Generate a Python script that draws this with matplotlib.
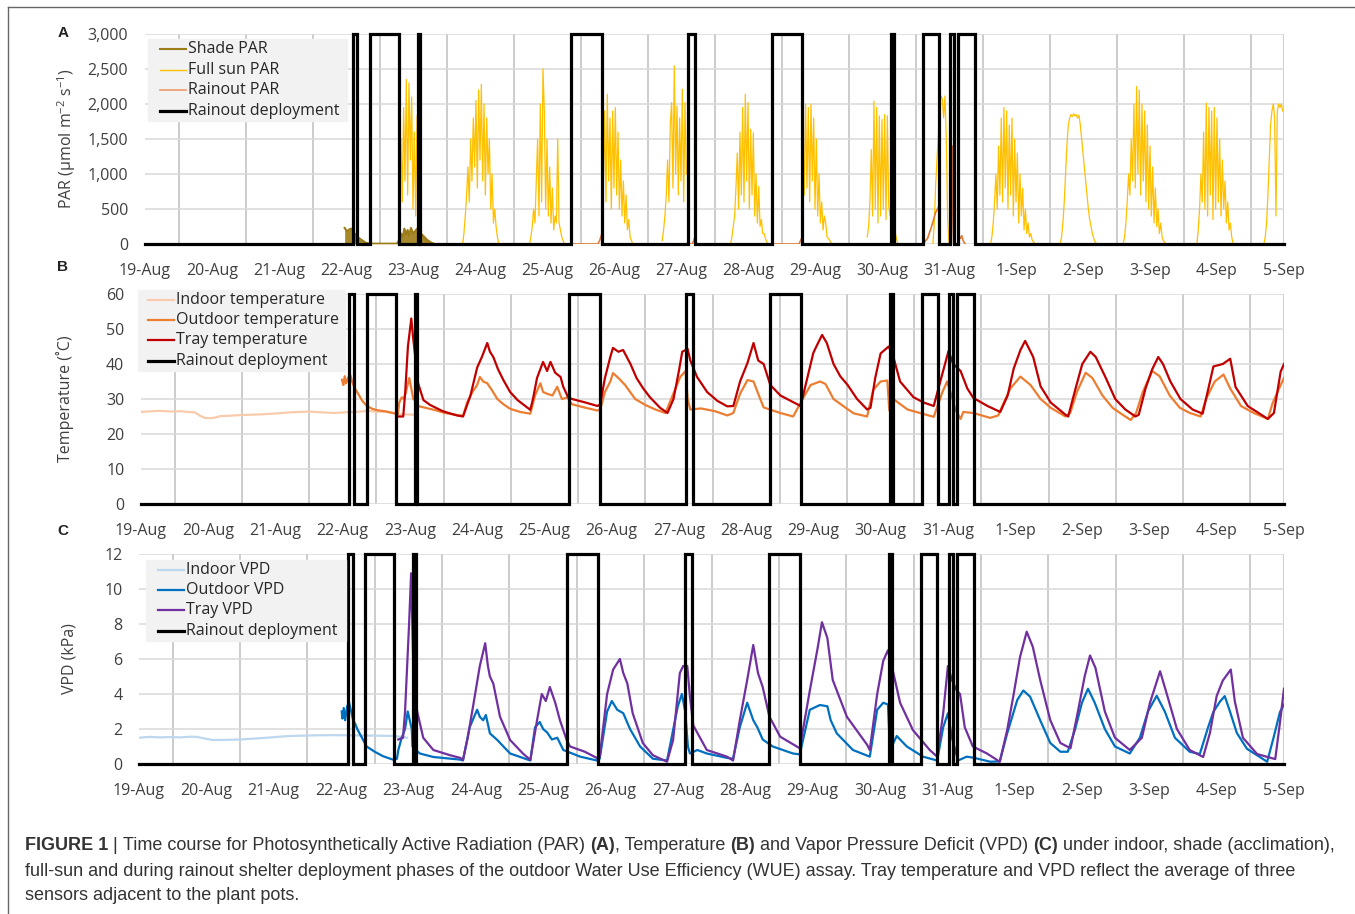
import numpy as np
import matplotlib
matplotlib.use("Agg")
import matplotlib.pyplot as plt
from matplotlib.lines import Line2D
from matplotlib.patches import Rectangle

# ---------------- data ----------------
date_labels = ["19-Aug", "20-Aug", "21-Aug", "22-Aug", "23-Aug", "24-Aug", "25-Aug",
               "26-Aug", "27-Aug", "28-Aug", "29-Aug", "30-Aug", "31-Aug", "1-Sep",
               "2-Sep", "3-Sep", "4-Sep", "5-Sep"]

# rainout shelter deployment (days since 19-Aug)
deploy_on = [3.10, 3.36, 4.07, 6.36, 8.11, 9.36, 11.14, 11.61, 12.02, 12.14]
deploy_off = [3.17, 3.79, 4.11, 6.82, 8.21, 9.81, 11.18, 11.85, 12.08, 12.39]

# ---- Panel A: PAR ----
shade_t = [2.98, 3.00, 3.02, 3.05, 3.08, 3.12, 3.17, 3.23, 3.29, 3.35, 3.76, 3.79, 3.82, 3.85,
           3.87, 3.90, 3.92, 3.94, 3.97, 4.00, 4.03, 4.06, 4.08, 4.12, 4.17, 4.21, 4.27, 4.32]
shade_v = [230, 200, 180, 210, 220, 160, 100, 60, 20, 5, 5, 50, 150, 100, 220, 140, 200, 120,
           230, 150, 180, 220, 200, 150, 100, 60, 20, 0]

sun_step = 0.02
sun_starts = [3.80, 4.74, 5.74, 6.82, 7.72, 8.74, 9.82, 10.78, 11.76, 12.62, 13.66, 14.60, 15.70, 16.70]
sun_23aug = [300, 1500, 600, 1950, 900, 2350, 700, 2300, 1200, 2100, 500, 1600, 400, 1830]
sun_24aug = [0, 150, 400, 700, 1100, 600, 1500, 900, 1800, 1100, 2050, 800, 2200, 1200, 2280,
             900, 2000, 700, 1800, 1000, 1500, 500, 1000, 300, 500, 250, 100, 0]
sun_25aug = [0, 100, 250, 500, 300, 900, 1500, 400, 2000, 600, 2500, 1900, 500, 1500, 400,
             1100, 300, 800, 200, 400, 300, 1500, 300, 200, 100, 50, 0]
sun_26aug = [1500, 800, 1900, 600, 2140, 900, 1800, 500, 1900, 800, 1950, 700, 1600, 500, 1200,
             400, 900, 300, 700, 200, 350, 100, 50, 0]
sun_27aug = [50, 200, 400, 700, 1200, 600, 1700, 2020, 800, 2545, 1000, 1970, 700, 1800, 900,
             2210, 600, 2020, 1000]
sun_28aug = [0, 100, 250, 400, 800, 1300, 500, 1600, 700, 1950, 600, 2140, 900, 2020, 500, 1640,
             700, 1590, 400, 1000, 300, 820, 250, 350, 150, 150, 80, 30, 0]
sun_29aug = [1500, 700, 2000, 800, 1950, 600, 2000, 900, 1800, 500, 1500, 400, 1000, 300, 600,
             200, 400, 300, 100, 80, 50, 20, 0]
sun_30aug = [100, 250, 600, 1350, 400, 2040, 500, 1950, 300, 1830, 400, 1780, 500, 1850, 350,
             1830, 540, 400]
sun_31aug = [0, 300, 820, 1200, 1540, 2020, 2115, 2070, 1800, 2115, 1500, 345, 0]
sun_01sep = [0, 100, 300, 600, 1000, 500, 1400, 700, 1800, 600, 1950, 800, 1900, 500, 1700, 700,
             1800, 400, 1500, 600, 1300, 300, 1000, 400, 800, 200, 500, 150, 300, 100, 150, 60,
             30, 10, 0]
sun_02sep = [0, 100, 300, 600, 1000, 1400, 1700, 1800, 1850, 1820, 1860, 1830, 1850, 1800, 1840,
             1700, 1500, 1300, 1100, 900, 700, 500, 350, 250, 150, 80, 30, 10, 0]
sun_03sep = [0, 100, 300, 600, 1000, 700, 1500, 900, 2000, 800, 2250, 1000, 2200, 700, 2000, 900,
             1900, 600, 1700, 500, 1400, 400, 1100, 300, 800, 250, 500, 150, 300, 100, 50, 20, 0]
sun_04sep = [0, 200, 500, 1000, 600, 1600, 500, 2014, 400, 1950, 700, 1900, 350, 1950, 500, 1800,
             600, 1500, 400, 1200, 500, 900, 300, 600, 200, 300, 100, 0]
sun_05sep = [0, 100, 300, 700, 1200, 1700, 1900, 2000, 1800, 400, 1900, 2000, 1950, 2000, 1900]
sun_tail_t = [4.11, 4.14, 4.17, 4.20, 4.24, 11.18, 11.20, 11.22, 11.24]
sun_tail_v = [150, 120, 60, 20, 0, 200, 150, 60, 0]

rain_t = [6.36, 6.76, 6.79, 6.82, np.nan, 8.11, 8.17, 8.21, np.nan, 9.36, 9.76, 9.81, np.nan,
          11.61, 11.68, 11.74, 11.80, 11.85, np.nan, 12.02, 12.03, 12.04, 12.05, 12.06, 12.07,
          np.nan, 12.13, 12.15, 12.17, 12.19, 12.21, 12.24]
rain_v = [0, 0, 60, 150, np.nan, 0, 0, 100, np.nan, 0, 0, 100, np.nan,
          0, 80, 250, 450, 540, np.nan, 0, 1600, 400, 1400, 300, 0,
          np.nan, 0, 100, 80, 120, 50, 0]

# ---- Panel B: temperature ----
tin_t = [0.00, 0.15, 0.28, 0.45, 0.58, 0.70, 0.80, 0.88, 0.95, 1.03, 1.10, 1.18, 1.30, 1.47,
         1.62, 1.77, 1.95, 2.10, 2.22, 2.35, 2.51, 2.68, 2.86, 3.04, 3.20, 3.36, 3.50, 3.63,
         3.75, 3.85, 3.95, 4.05]
tin_v = [26.3, 26.5, 26.6, 26.4, 26.5, 26.3, 26.2, 25.2, 24.6, 24.5, 24.7, 25.1, 25.2, 25.4,
         25.5, 25.6, 25.8, 26.0, 26.2, 26.3, 26.4, 26.2, 26.0, 26.2, 26.3, 26.6, 26.4, 26.3,
         26.0, 25.6, 25.6, 25.5]

tout_t = [2.99, 3.01, 3.03, 3.05, 3.08, 3.11, 3.14, 3.18, 3.23, 3.29, 3.36, 3.44, 3.51, 3.63,
          3.75, 3.82, 3.84, 3.88, 3.91, 3.94, 3.99, 4.02, 4.05, 4.08, 4.12, 4.23, 4.38, 4.52,
          4.67, 4.79, 4.85, 4.93, 5.00, 5.04, 5.09, 5.15, 5.22, 5.30, 5.39, 5.49, 5.64, 5.79,
          5.82, 5.86, 5.94, 5.98, 6.04, 6.12, 6.19, 6.26, 6.34, 6.41, 6.61, 6.79, 6.83, 6.90,
          6.98, 7.02, 7.10, 7.20, 7.35, 7.50, 7.65, 7.80, 7.92, 8.02, 8.10, 8.13, 8.17, 8.33,
          8.54, 8.72, 8.81, 8.91, 9.02, 9.11, 9.17, 9.26, 9.51, 9.70, 9.84, 9.96, 10.10, 10.18,
          10.30, 10.48, 10.60, 10.80, 10.89, 11.00, 11.10, 11.13, 11.19, 11.40, 11.70, 11.79,
          11.92, 11.99, 12.07, 12.11, 12.19, 12.23, 12.38, 12.63, 12.75, 12.81, 12.93, 13.08,
          13.23, 13.38, 13.53, 13.75, 13.82, 13.92, 14.05, 14.15, 14.30, 14.45, 14.60, 14.72,
          14.80, 14.90, 15.04, 15.15, 15.30, 15.45, 15.60, 15.76, 15.84, 15.97, 16.10, 16.20,
          16.36, 16.55, 16.76, 16.83, 16.95, 17.00]
tout_v = [35.5, 34.0, 36.5, 34.5, 36.0, 37.0, 35.0, 33.0, 31.5, 29.5, 28.0, 27.2, 26.8, 26.5,
          26.0, 25.6, 29.0, 30.5, 30.0, 32.0, 36.0, 33.0, 30.0, 29.5, 28.0, 27.5, 26.8, 26.0,
          25.5, 25.2, 29.0, 32.0, 34.0, 36.3, 35.0, 34.5, 32.5, 30.0, 28.5, 27.2, 26.3, 25.8,
          28.0, 31.0, 34.5, 32.0, 31.5, 31.0, 33.5, 30.0, 30.4, 28.5, 27.5, 26.7, 27.0, 32.0,
          35.0, 37.4, 36.0, 34.0, 30.0, 28.3, 27.0, 26.0, 31.6, 36.3, 38.0, 30.0, 27.0, 27.3,
          26.5, 25.3, 26.0, 31.5, 35.4, 35.0, 32.0, 27.6, 26.0, 25.0, 30.0, 34.0, 35.0, 34.3,
          30.0, 27.5, 25.9, 25.0, 32.6, 35.0, 35.3, 26.7, 30.0, 27.0, 25.4, 24.9,
          32.0, 35.0, 30.0, 27.0, 24.3, 26.3, 26.0, 24.6, 25.3, 28.0, 33.0, 36.4,
          34.0, 30.0, 27.5, 25.0, 26.0, 32.0, 37.5, 36.0, 31.0, 27.5, 25.5, 24.0,
          26.0, 32.0, 38.0, 36.5, 31.0, 27.5, 26.0, 25.0, 30.0, 35.0, 37.0, 33.0,
          28.0, 26.0, 24.3, 28.8, 34.0, 36.0]

ttray_t = [3.82, 3.90, 3.93, 3.97, 4.02, 4.05, 4.08, 4.12, 4.20, 4.30, 4.49, 4.70, 4.79, 4.90,
           5.00, 5.07, 5.15, 5.19, 5.24, 5.31, 5.39, 5.49, 5.60, 5.79, 5.83, 5.89, 5.98, 6.04,
           6.09, 6.16, 6.24, 6.28, 6.35, 6.41, 6.61, 6.79, 6.83, 6.90, 6.98, 7.02, 7.10, 7.17,
           7.28, 7.37, 7.47, 7.57, 7.72, 7.83, 7.92, 8.00, 8.05, 8.13, 8.17, 8.27, 8.42, 8.57,
           8.72, 8.81, 8.91, 9.02, 9.11, 9.18, 9.26, 9.36, 9.51, 9.66, 9.81, 9.91, 10.00, 10.07,
           10.13, 10.20, 10.30, 10.40, 10.51, 10.65, 10.80, 10.85, 10.92, 11.00, 11.12, 11.19,
           11.29, 11.40, 11.49, 11.64, 11.79, 11.86, 11.93, 12.01, 12.08, 12.19, 12.29, 12.38,
           12.59, 12.78, 12.89, 12.98, 13.08, 13.15, 13.27, 13.38, 13.53, 13.75, 13.79, 13.90,
           14.00, 14.12, 14.20, 14.35, 14.49, 14.64, 14.79, 14.84, 14.94, 15.04, 15.13, 15.20,
           15.31, 15.46, 15.64, 15.79, 15.95, 16.09, 16.20, 16.28, 16.46, 16.76, 16.85, 16.95,
           17.00]
ttray_v = [25.0, 25.0, 32.0, 45.0, 53.0, 47.0, 42.0, 34.6, 29.7, 28.3, 26.5, 25.3, 25.0, 31.0,
           39.0, 42.0, 46.0, 43.5, 42.0, 38.5, 35.4, 32.0, 29.7, 26.9, 30.0, 36.0, 40.6, 38.0,
           40.6, 37.5, 36.3, 33.5, 30.6, 30.0, 29.0, 28.0, 28.5, 36.0, 42.0, 44.6, 43.5, 44.0,
           40.0, 36.0, 33.0, 30.5, 27.5, 26.0, 30.0, 38.0, 43.5, 44.3, 41.0, 36.3, 32.0, 29.5,
           27.9, 28.0, 35.0, 40.3, 46.0, 41.0, 40.0, 34.0, 31.0, 29.5, 28.0, 36.0, 43.2, 46.0,
           48.3, 46.0, 40.0, 36.5, 34.0, 30.0, 27.0, 27.5, 36.0, 43.0, 45.0, 42.0,
           35.0, 32.5, 30.5, 29.0, 28.0, 33.0, 38.0, 43.7, 40.0, 38.0, 33.0, 30.3,
           28.0, 26.3, 31.0, 38.7, 44.0, 46.6, 42.0, 33.6, 29.0, 25.5, 25.0, 33.0,
           40.0, 43.5, 42.0, 36.0, 30.0, 27.0, 25.0, 25.5, 33.0, 38.5, 42.0, 40.0,
           35.0, 30.0, 27.0, 25.8, 39.3, 40.0, 41.5, 33.4, 28.0, 24.3, 26.0, 37.8,
           40.0]

# ---- Panel C: VPD ----
vin_t = [0.00, 0.15, 0.31, 0.45, 0.61, 0.75, 0.86, 0.98, 1.10, 1.30, 1.50, 1.70, 1.90, 2.05,
         2.24, 2.45, 2.65, 2.88, 3.08, 3.28, 3.50, 3.77, 3.90, 3.98]
vin_v = [1.50, 1.55, 1.52, 1.54, 1.52, 1.56, 1.55, 1.45, 1.37, 1.38, 1.40, 1.45, 1.50, 1.55,
         1.60, 1.62, 1.64, 1.65, 1.64, 1.63, 1.62, 1.60, 1.55, 1.50]

vout_t = [3.01, 3.02, 3.04, 3.06, 3.09, 3.12, 3.15, 3.18, 3.21, 3.24, 3.31, 3.38, 3.50, 3.62,
          3.77, 3.83, 3.85, 3.90, 3.95, 3.99, 4.02, 4.05, 4.06, 4.11, 4.17, 4.37, 4.77, 4.81,
          4.91, 5.02, 5.06, 5.11, 5.15, 5.21, 5.32, 5.51, 5.81, 5.88, 5.95, 6.00, 6.06, 6.13,
          6.21, 6.30, 6.55, 6.80, 6.84, 6.95, 7.02, 7.10, 7.19, 7.29, 7.44, 7.63, 7.84, 7.93,
          8.00, 8.06, 8.11, 8.15, 8.18, 8.29, 8.43, 8.73, 8.82, 8.92, 9.03, 9.12, 9.18, 9.26,
          9.41, 9.71, 9.81, 9.96, 10.11, 10.22, 10.27, 10.36, 10.60, 10.85, 10.96, 11.05,
          11.12, 11.15, 11.25, 11.40, 11.64, 11.85, 11.94, 12.01, 12.07, 12.16, 12.29, 12.40,
          12.64, 12.78, 12.89, 13.04, 13.13, 13.23, 13.38, 13.53, 13.68, 13.79, 13.90, 14.00,
          14.09, 14.19, 14.34, 14.49, 14.71, 14.86, 14.98, 15.11, 15.23, 15.38, 15.60, 15.75,
          15.87, 15.95, 16.05, 16.12, 16.20, 16.30, 16.45, 16.75, 16.84, 16.94, 17.00]
vout_v = [3.0, 2.6, 3.2, 2.5, 3.3, 3.5, 3.0, 2.5, 2.3, 2.0, 1.5, 1.0, 0.7, 0.45,
          0.25, 0.3, 0.8, 1.5, 2.0, 3.0, 2.5, 2.0, 1.0, 0.8, 0.6, 0.4, 0.25, 0.2,
          2.1, 3.1, 2.7, 2.5, 2.8, 1.75, 1.37, 0.6, 0.2, 2.1, 2.4, 2.0, 1.8, 1.4,
          1.5, 0.8, 0.42, 0.2, 0.3, 3.0, 3.6, 3.1, 2.9, 2.0, 1.0, 0.3, 0.2, 1.94,
          3.3, 4.0, 3.0, 1.0, 0.6, 0.8, 0.6, 0.35, 0.3, 2.1, 3.5, 2.5, 2.1, 1.4,
          1.0, 0.6, 0.55, 3.1, 3.37, 3.3, 2.5, 1.75, 0.8, 0.42, 3.1, 3.5,
          3.4, 0.8, 1.6, 1.0, 0.42, 0.2, 2.1, 2.9, 1.5, 0.2, 0.42, 0.35,
          0.13, 0.15, 1.75, 3.66, 4.2, 3.85, 2.5, 1.2, 0.7, 0.7, 2.0, 3.5,
          4.3, 3.5, 2.0, 1.0, 0.6, 1.5, 3.0, 3.9, 3.0, 1.5, 0.7, 0.57,
          2.06, 2.97, 3.57, 3.88, 2.97, 1.77, 0.87, 0.13, 1.43, 2.97, 3.4]

vtray_t = [3.85, 3.92, 3.95, 3.98, 4.01, 4.04, 4.07, 4.10, 4.13, 4.22, 4.37, 4.62, 4.77, 4.81,
           4.88, 4.96, 5.06, 5.14, 5.18, 5.21, 5.26, 5.36, 5.51, 5.70, 5.81, 5.91, 5.98, 6.04,
           6.10, 6.18, 6.25, 6.35, 6.40, 6.62, 6.80, 6.84, 6.95, 7.04, 7.14, 7.19, 7.25, 7.33,
           7.48, 7.63, 7.84, 7.93, 8.03, 8.08, 8.14, 8.18, 8.23, 8.43, 8.73, 8.82, 8.92, 9.03,
           9.12, 9.19, 9.26, 9.36, 9.52, 9.81, 9.96, 10.07, 10.14, 10.22, 10.30, 10.51, 10.81,
           10.85, 10.96, 11.05, 11.12, 11.20, 11.30, 11.49, 11.74, 11.85, 11.94, 12.01, 12.07,
           12.14, 12.19, 12.26, 12.38, 12.59, 12.78, 12.89, 12.98, 13.08, 13.18, 13.27, 13.38,
           13.53, 13.68, 13.83, 13.94, 14.04, 14.12, 14.20, 14.34, 14.49, 14.71, 14.89, 15.01,
           15.16, 15.26, 15.41, 15.60, 15.80, 15.90, 16.00, 16.09, 16.21, 16.27, 16.39, 16.60,
           16.87, 16.94, 17.00]
vtray_v = [1.4, 1.5, 3.0, 5.5, 8.0, 10.9, 6.0, 4.0, 3.0, 1.5, 0.8, 0.5, 0.35, 0.23,
           1.5, 3.3, 5.6, 6.9, 5.6, 5.0, 4.6, 2.7, 1.37, 0.6, 0.23, 2.5, 4.0, 3.6,
           4.4, 3.5, 2.5, 1.37, 1.0, 0.7, 0.34, 0.4, 4.0, 5.4, 6.0, 5.2, 4.6, 2.9,
           1.2, 0.5, 0.13, 1.37, 5.2, 5.6, 5.6, 3.85, 2.2, 0.8, 0.42, 0.2, 2.5, 4.8,
           6.8, 5.2, 4.4, 2.7, 1.56, 0.9, 4.2, 6.5, 8.1, 7.2, 4.8, 2.7, 1.1,
           0.8, 4.0, 5.9, 6.5, 5.2, 3.5, 1.94, 0.8, 0.42, 2.9, 5.6, 4.8,
           4.2, 4.0, 2.1, 1.0, 0.6, 0.13, 1.94, 3.85, 6.1, 7.56, 6.7, 4.8,
           2.5, 1.2, 0.9, 3.0, 5.0, 6.2, 5.5, 3.0, 1.5, 0.8, 1.5, 3.5,
           5.3, 4.0, 2.0, 0.8, 0.4, 1.77, 3.88, 4.76, 5.4, 3.57, 1.5, 0.57,
           0.28, 2.37, 4.3]

# ---------------- figure ----------------
W, H = 1355, 914
plt.rcParams["font.family"] = ["Open Sans", "DejaVu Sans"]
plt.rcParams["mathtext.fontset"] = "custom"
plt.rcParams["mathtext.rm"] = "Open Sans"
fig = plt.figure(figsize=(W / 100, H / 100), dpi=100)


def fx(x):
    return x / W


def fy(y):
    return 1 - y / H


def axes_px(l, t, r, b):
    return fig.add_axes([l / W, 1 - b / H, (r - l) / W, (b - t) / H])


TICK_COLOR = "#404040"
GRID_H = "#D9D9D9"
GRID_V = "#BFBFBF"


def style_axes(ax, ymax, ystep, fmt):
    ax.set_xlim(0, 17)
    ax.set_ylim(0, ymax)
    for s in ax.spines.values():
        s.set_visible(False)
    yt = np.arange(0, ymax + ystep / 2, ystep)
    ax.set_yticks(yt)
    ax.set_yticklabels([fmt(v) for v in yt])
    ax.set_xticks(np.arange(0, 18))
    ax.set_xticklabels(date_labels)
    ax.set_xticks(np.arange(0.5, 17, 1.0), minor=True)
    ax.tick_params(axis="both", which="both", length=0, labelsize=11.5, labelcolor=TICK_COLOR)
    ax.tick_params(axis="y", pad=12)
    ax.tick_params(axis="x", pad=13.5)
    ax.grid(True, axis="y", which="major", color=GRID_H, lw=1.1)
    ax.grid(True, axis="x", which="minor", color=GRID_V, lw=1.1)
    ax.axvline(17, color="#D0D0D0", lw=1.5, zorder=0.5)
    ax.set_axisbelow(True)


def deploy_line(ax, ymax):
    xs, ys = [0.0], [0.0]
    for a, b in zip(deploy_on, deploy_off):
        xs += [a, a, b, b]
        ys += [0, ymax, ymax, 0]
    xs.append(17.0)
    ys.append(0.0)
    ax.plot(xs, ys, color="black", lw=2.3, solid_joinstyle="miter", clip_on=False, zorder=5)


# ---- Panel A ----
axA = axes_px(145, 34, 1284, 244)
style_axes(axA, 3000, 500, lambda v: f"{int(v):,}")
sun_days = [sun_23aug, sun_24aug, sun_25aug, sun_26aug, sun_27aug, sun_28aug, sun_29aug,
            sun_30aug, sun_31aug, sun_01sep, sun_02sep, sun_03sep, sun_04sep, sun_05sep]
for st, vals in zip(sun_starts, sun_days):
    tt = st + sun_step * np.arange(len(vals))
    axA.plot(tt, vals, color="#FFC000", lw=0.9, zorder=3)
axA.plot(sun_tail_t[:5], sun_tail_v[:5], color="#FFC000", lw=0.9, zorder=3)
axA.plot(sun_tail_t[5:], sun_tail_v[5:], color="#FFC000", lw=0.9, zorder=3)
axA.fill_between(shade_t, shade_v, color="#9C7C16", lw=0, alpha=0.9, zorder=3)
axA.plot(shade_t, shade_v, color="#9C7C16", lw=1.5, zorder=3)
axA.plot(rain_t, rain_v, color="#E07A35", lw=1.2, zorder=3)
deploy_line(axA, 3000)

# ---- Panel B ----
axB = axes_px(141, 294, 1284, 504)
style_axes(axB, 60, 10, lambda v: f"{int(v)}")
axB.plot(tin_t, tin_v, color="#F8CBAD", lw=1.6, zorder=3)
axB.plot(tout_t, tout_v, color="#ED7D31", lw=1.6, zorder=3)
axB.plot(ttray_t, ttray_v, color="#C00000", lw=1.6, zorder=3)
deploy_line(axB, 60)

# ---- Panel C ----
axC = axes_px(139, 554, 1284, 764)
style_axes(axC, 12, 2, lambda v: f"{int(v)}")
axC.plot(vin_t, vin_v, color="#BDD7EE", lw=1.6, zorder=3)
axC.plot(vout_t, vout_v, color="#0070C0", lw=1.6, zorder=3)
axC.plot(vtray_t, vtray_v, color="#7030A0", lw=1.6, zorder=3)
deploy_line(axC, 12)

# y-axis titles
for lab, xx, yy in [("PAR (μmol m$^{\\mathregular{-2}}$ s$^{\\mathregular{-1}}$)", 67, 139),
                    ("Temperature (˚C)", 65, 399), ("VPD (kPa)", 70, 659)]:
    fig.text(fx(xx), fy(yy), lab, rotation=90, fontsize=11.5, color=TICK_COLOR,
             ha="center", va="center")


# ---- legends (drawn manually, Excel style) ----
def legend(box, s0, s1, tx, rows, entries):
    x0, y0, x1, y1 = box
    fig.patches.append(Rectangle((fx(x0), fy(y1)), fx(x1 - x0), (y1 - y0) / H,
                                 transform=fig.transFigure, color="#F2F2F2", zorder=10))
    for yy, (lab, col, lw) in zip(rows, entries):
        fig.lines.append(Line2D([fx(s0), fx(s1)], [fy(yy), fy(yy)], color=col, lw=lw,
                                transform=fig.transFigure, zorder=11))
        fig.text(fx(tx), fy(yy), lab, fontsize=11.5, color="#262626", va="center", ha="left",
                 zorder=12)


legend((148, 39, 347, 121), 160, 186, 188, [49, 70, 90, 111],
       [("Shade PAR", "#9C7C16", 1.5), ("Full sun PAR", "#FFC000", 1.0),
        ("Rainout PAR", "#EE9A68", 1.2), ("Rainout deployment", "black", 2.3)])
legend((138, 290, 345, 371), 148, 174, 176, [300, 320, 340, 361],
       [("Indoor temperature", "#F8CBAD", 1.6), ("Outdoor temperature", "#ED7D31", 1.6),
        ("Tray temperature", "#C00000", 1.6), ("Rainout deployment", "black", 2.3)])
legend((146, 560, 346, 641), 158, 184, 186, [570, 590, 610, 631],
       [("Indoor VPD", "#BDD7EE", 1.6), ("Outdoor VPD", "#0070C0", 1.6),
        ("Tray VPD", "#7030A0", 1.6), ("Rainout deployment", "black", 2.3)])

# panel letters
for lab, yy in [("A", 33), ("B", 267), ("C", 531)]:
    fig.text(fx(63), fy(yy), lab, fontsize=11, fontweight="bold", color="#222222",
             family=["Liberation Sans", "DejaVu Sans"], ha="center", va="center")

# frame lines
fig.lines.append(Line2D([fx(8), fx(1355)], [fy(7), fy(7)], color="#666666", lw=1,
                        transform=fig.transFigure))
fig.lines.append(Line2D([fx(8), fx(8)], [fy(7), fy(914)], color="#666666", lw=1,
                        transform=fig.transFigure))

# ---- caption ----
cap_font = ["Liberation Sans Narrow", "Liberation Sans", "DejaVu Sans"]
cap_lines = [
    [("FIGURE 1", True), (" | ", False),
     ("Time course for Photosynthetically Active Radiation (PAR) ", False), ("(A)", True),
     (", Temperature ", False), ("(B)", True), (" and Vapor Pressure Deficit (VPD) ", False),
     ("(C)", True), (" under indoor, shade (acclimation),", False)],
    [("full-sun and during rainout shelter deployment phases of the outdoor Water Use "
      "Efficiency (WUE) assay. Tray temperature and VPD reflect the average of three", False)],
    [("sensors adjacent to the plant pots.", False)],
]
cap_y = [846, 871, 896]
cap_size = 13.0
renderer = fig.canvas.get_renderer()
for segs, yy in zip(cap_lines, cap_y):
    x = 25.0
    for txt, bold in segs:
        t = fig.text(fx(x), fy(yy), txt, fontsize=cap_size, family=cap_font,
                     fontweight="bold" if bold else "normal", color="#333333",
                     ha="left", va="center")
        bb = t.get_window_extent(renderer=renderer)
        x += bb.width

fig.savefig("out.png", dpi=100, facecolor="white")
